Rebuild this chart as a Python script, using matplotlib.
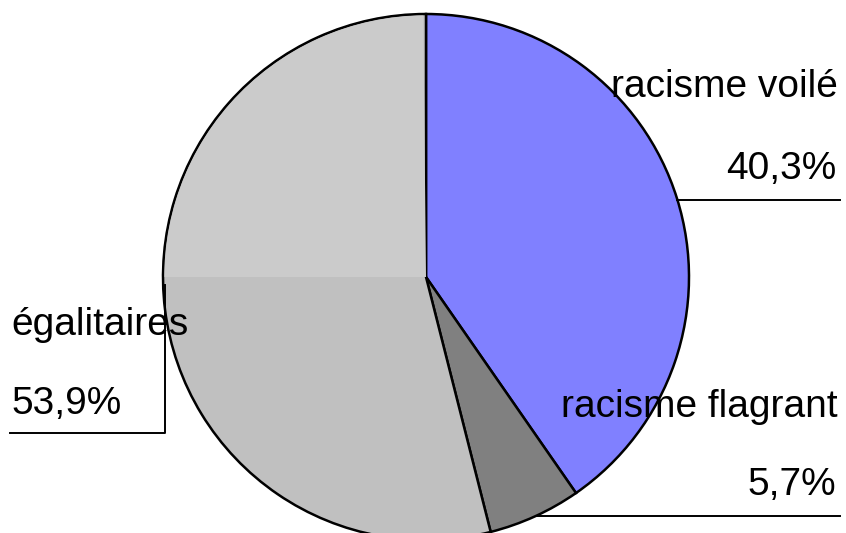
import matplotlib
matplotlib.use("Agg")
import matplotlib.pyplot as plt
from matplotlib.patches import Wedge

plt.rcParams['font.family'] = ['Liberation Sans', 'DejaVu Sans']

# data
categories = ['racisme voilé', 'racisme flagrant', 'égalitaires']
shares = [40.3, 5.7, 53.9]
share_labels = ['40,3%', '5,7%', '53,9%']
colors = ['#8080FF', '#808080', '#C0C0C0']

W, H = 846, 533
fig = plt.figure(figsize=(W / 100, H / 100), dpi=100)
ax = fig.add_axes([0, 0, 1, 1])

cx, cy, r = 426, H - 277, 263

wedges, _ = ax.pie(shares, colors=colors, startangle=90, counterclock=False,
                   center=(cx, cy), radius=r, frame=True,
                   wedgeprops=dict(edgecolor='black', linewidth=1.8))
ax.set_xlim(0, W)
ax.set_ylim(0, H)
ax.set_aspect('equal')
ax.axis('off')

# lighter shading of upper-left part of the grey slice (old renderer look)
ax.add_patch(Wedge((cx, cy), r - 1.5, 90.6, 180, facecolor='#CBCBCB',
                   edgecolor='none', zorder=wedges[2].get_zorder() + 0.1))

fs = 28
lc = dict(color='black', linewidth=1.4)

# racisme voilé
ax.plot([677, 840], [H - 200, H - 200], **lc)
ax.text(838, H - 97, categories[0], ha='right', va='baseline', fontsize=fs)
ax.text(836, H - 179, share_labels[0], ha='right', va='baseline', fontsize=fs)

# racisme flagrant
ax.plot([536, 840], [H - 516, H - 516], **lc)
ax.text(838, H - 417, categories[1], ha='right', va='baseline', fontsize=fs)
ax.text(836, H - 495, share_labels[1], ha='right', va='baseline', fontsize=fs)

# égalitaires
ax.plot([165, 165, 10], [H - 285, H - 433, H - 433], **lc)
ax.text(11, H - 335, categories[2], ha='left', va='baseline', fontsize=fs)
ax.text(11, H - 414, share_labels[2], ha='left', va='baseline', fontsize=fs)

fig.savefig('out.png', dpi=100)
